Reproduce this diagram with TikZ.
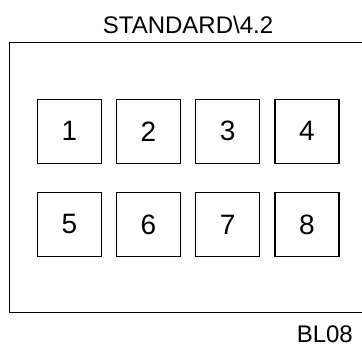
\documentclass[tikz,border=0pt]{standalone}
\usepackage{fontspec}
\setmainfont{Liberation Sans}
\usetikzlibrary{positioning}

\begin{document}
\begin{tikzpicture}[x=1pt, y=1pt, node distance=14pt,
    slot/.style={draw, line width=1.2pt, minimum size=64pt, inner sep=0pt, font=\fontsize{28}{32}\selectfont},
    tag/.style={inner sep=0pt, font=\fontsize{24}{28}\selectfont}]
    \useasboundingbox (0,0) rectangle (362,347);

    % Frame (open on the right)
    \coordinate (ftop) at (362,304.3);
    \coordinate (fbot) at (362,34.3);
    \draw [line width=1.3pt] (ftop) -| (9.3,34.3) -- (fbot);

    % Slots {s1, s2, ..., s8}
    \node [slot]                      (s1) at (69.3,215.7) {1};
    \node [slot] [right=of s1]        (s2) {2};
    \node [slot] [right=of s2]        (s3) {3};
    \node [slot] [right=of s3]        (s4) {4};
    \node [slot] [below=28pt of s1]   (s5) {5};
    \node [slot] [right=of s5]        (s6) {6};
    \node [slot] [right=of s6]        (s7) {7};
    \node [slot] [right=of s7]        (s8) {8};

    % Labels
    \node [tag, anchor=base]      (title) at (188,313.7) {STANDARD\textbackslash 4.2};
    \node [tag, anchor=base east] (code)  at (353,4)     {BL08};
\end{tikzpicture}
\end{document}
